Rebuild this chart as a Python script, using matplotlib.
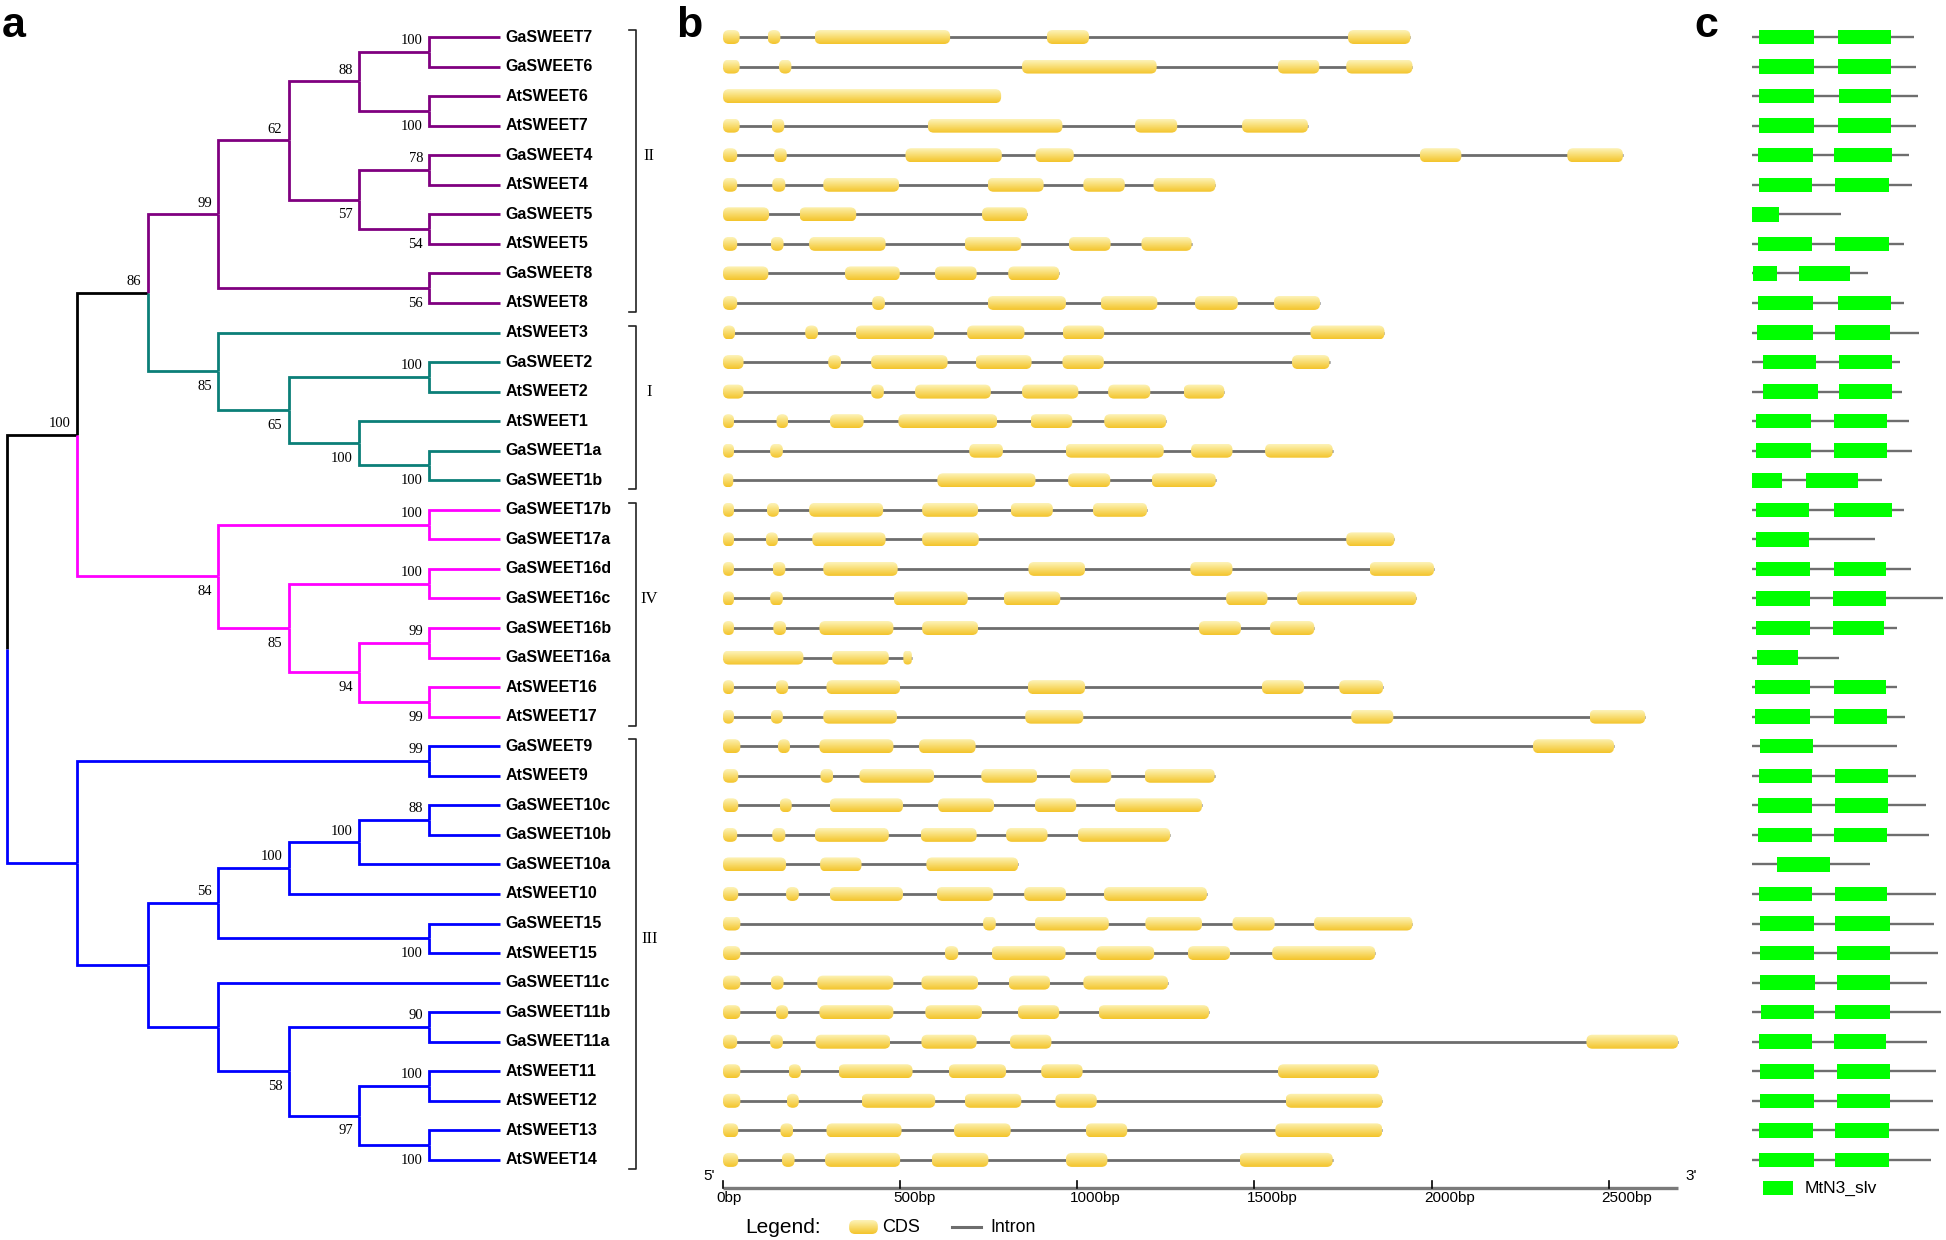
import matplotlib
matplotlib.use("Agg")
import matplotlib.pyplot as plt
import numpy as np
from matplotlib.patches import FancyBboxPatch, Rectangle
from matplotlib.colors import LinearSegmentedColormap

# ---------------- data ----------------
# phylogeny: (bootstrap, [children]) ; leaves are names
tree = (None, [
    (100, [
        (86, [
            (99, [
                (62, [
                    (88, [(100, ["GaSWEET7", "GaSWEET6"]), (100, ["AtSWEET6", "AtSWEET7"])]),
                    (57, [(78, ["GaSWEET4", "AtSWEET4"]), (54, ["GaSWEET5", "AtSWEET5"])]),
                ]),
                (56, ["GaSWEET8", "AtSWEET8"]),
            ]),
            (85, [
                "AtSWEET3",
                (65, [(100, ["GaSWEET2", "AtSWEET2"]),
                      (100, ["AtSWEET1", (100, ["GaSWEET1a", "GaSWEET1b"])])]),
            ]),
        ]),
        (84, [
            (100, ["GaSWEET17b", "GaSWEET17a"]),
            (85, [(100, ["GaSWEET16d", "GaSWEET16c"]),
                  (94, [(99, ["GaSWEET16b", "GaSWEET16a"]), (99, ["AtSWEET16", "AtSWEET17"])])]),
        ]),
    ]),
    (None, [
        (99, ["GaSWEET9", "AtSWEET9"]),
        (None, [
            (56, [(100, [(100, [(88, ["GaSWEET10c", "GaSWEET10b"]), "GaSWEET10a"]), "AtSWEET10"]),
                  (100, ["GaSWEET15", "AtSWEET15"])]),
            (None, ["GaSWEET11c",
                    (58, [(90, ["GaSWEET11b", "GaSWEET11a"]),
                          (97, [(100, ["AtSWEET11", "AtSWEET12"]), (100, ["AtSWEET13", "AtSWEET14"])])])]),
        ]),
    ]),
])

clade_names = ["II", "I", "IV", "III"]
clade_first = ["GaSWEET7", "AtSWEET3", "GaSWEET17b", "GaSWEET9"]
clade_last = ["AtSWEET8", "GaSWEET1b", "AtSWEET17", "AtSWEET14"]
clade_colors = ["#800080", "#0b7f78", "#ff00ff", "#0000ff"]

genes = ["GaSWEET7", "GaSWEET6", "AtSWEET6", "AtSWEET7", "GaSWEET4", "AtSWEET4",
         "GaSWEET5", "AtSWEET5", "GaSWEET8", "AtSWEET8", "AtSWEET3", "GaSWEET2",
         "AtSWEET2", "AtSWEET1", "GaSWEET1a", "GaSWEET1b", "GaSWEET17b", "GaSWEET17a",
         "GaSWEET16d", "GaSWEET16c", "GaSWEET16b", "GaSWEET16a", "AtSWEET16", "AtSWEET17",
         "GaSWEET9", "AtSWEET9", "GaSWEET10c", "GaSWEET10b", "GaSWEET10a", "AtSWEET10",
         "GaSWEET15", "AtSWEET15", "GaSWEET11c", "GaSWEET11b", "GaSWEET11a", "AtSWEET11",
         "AtSWEET12", "AtSWEET13", "AtSWEET14"]

# CDS positions (bp), same order as genes
exon_bp = [
    [(0, 47), (126, 162), (259, 641), (914, 1033), (1764, 1940)],
    [(0, 47), (158, 193), (844, 1224), (1566, 1683), (1759, 1946)],
    [(0, 785)],
    [(0, 47), (137, 173), (578, 958), (1163, 1282), (1465, 1651)],
    [(0, 40), (144, 180), (515, 787), (882, 990), (1967, 2084), (2383, 2540)],
    [(0, 40), (139, 176), (283, 497), (747, 905), (1017, 1134), (1215, 1390)],
    [(0, 130), (216, 376), (731, 859)],
    [(0, 40), (135, 171), (243, 459), (682, 842), (976, 1094), (1181, 1323)],
    [(0, 128), (344, 499), (598, 716), (805, 949)],
    [(0, 40), (421, 457), (747, 968), (1066, 1226), (1332, 1453), (1555, 1685)],
    [(0, 34), (232, 268), (374, 596), (689, 851), (959, 1076), (1658, 1867)],
    [(0, 58), (297, 333), (418, 634), (713, 871), (958, 1075), (1606, 1712)],
    [(0, 58), (418, 454), (542, 756), (844, 1003), (1087, 1206), (1300, 1415)],
    [(0, 31), (151, 184), (302, 397), (495, 774), (868, 986), (1076, 1251)],
    [(0, 31), (133, 169), (695, 790), (967, 1244), (1321, 1438), (1530, 1721)],
    [(0, 29), (605, 882), (974, 1093), (1210, 1391)],
    [(0, 31), (124, 158), (243, 452), (562, 720), (812, 931), (1044, 1197)],
    [(0, 31), (121, 155), (252, 459), (562, 722), (1759, 1895)],
    [(0, 31), (140, 176), (283, 493), (862, 1022), (1319, 1438), (1825, 2007)],
    [(0, 31), (133, 169), (482, 691), (792, 952), (1420, 1537), (1620, 1957)],
    [(0, 31), (142, 178), (272, 481), (562, 720), (1343, 1462), (1544, 1669)],
    [(0, 227), (308, 468), (509, 533)],
    [(0, 31), (149, 184), (292, 500), (860, 1022), (1521, 1640), (1739, 1863)],
    [(0, 31), (135, 169), (283, 491), (853, 1017), (1773, 1892), (2446, 2603)],
    [(0, 49), (155, 189), (272, 481), (553, 713), (2286, 2515)],
    [(0, 43), (275, 311), (385, 596), (729, 887), (979, 1096), (1190, 1388)],
    [(0, 43), (160, 194), (301, 508), (607, 765), (880, 997), (1105, 1352)],
    [(0, 40), (139, 176), (259, 468), (558, 716), (799, 916), (1001, 1262)],
    [(0, 178), (274, 391), (574, 833)],
    [(0, 43), (178, 214), (301, 508), (603, 763), (850, 968), (1075, 1366)],
    [(0, 49), (734, 770), (880, 1089), (1192, 1352), (1438, 1557), (1668, 1946)],
    [(0, 49), (626, 664), (758, 967), (1053, 1217), (1312, 1431), (1550, 1841)],
    [(0, 49), (135, 171), (266, 481), (560, 720), (806, 923), (1017, 1256)],
    [(0, 49), (149, 184), (272, 481), (571, 731), (832, 949), (1060, 1372)],
    [(0, 40), (133, 169), (261, 472), (560, 716), (810, 927), (2437, 2696)],
    [(0, 49), (185, 220), (326, 535), (637, 799), (898, 1015), (1566, 1850)],
    [(0, 49), (180, 214), (391, 599), (682, 842), (938, 1055), (1588, 1861)],
    [(0, 43), (162, 198), (292, 504), (652, 812), (1024, 1141), (1559, 1861)],
    [(0, 43), (166, 202), (288, 500), (589, 749), (968, 1085), (1458, 1721)],
]
bp_ticks = [0, 500, 1000, 1500, 2000, 2500]
bp_axis_end = 2696

# protein length (aa) and MtN3_slv domains (aa), same order as genes
protein_aa = [261, 265, 269, 265, 254, 258, 144, 246, 188, 245, 270, 239, 242,
              254, 259, 210, 245, 199, 257, 308, 235, 141, 235, 247, 235, 265,
              281, 286, 191, 297, 294, 300, 282, 305, 283, 297, 292, 302, 289]
domain_aa = [
    [(12, 101), (139, 225)], [(12, 101), (139, 225)], [(12, 101), (140, 225)],
    [(12, 101), (139, 225)], [(10, 99), (133, 226)], [(12, 98), (135, 221)],
    [(1, 44)], [(10, 97), (135, 222)], [(2, 41), (76, 159)], [(10, 99), (139, 224)],
    [(9, 99), (135, 223)], [(18, 104), (141, 226)], [(18, 107), (141, 226)],
    [(7, 96), (133, 218)], [(7, 96), (133, 218)], [(1, 49), (87, 172)],
    [(7, 93), (133, 226)], [(7, 93)], [(7, 94), (132, 217)], [(7, 94), (131, 217)],
    [(7, 94), (131, 214)], [(8, 75)], [(6, 94), (132, 217)], [(6, 94), (132, 218)],
    [(13, 99)], [(11, 98), (135, 220)], [(10, 97), (134, 220)], [(10, 97), (133, 219)],
    [(41, 126)], [(11, 98), (134, 219)], [(14, 101), (135, 223)], [(13, 101), (138, 223)],
    [(13, 102), (138, 223)], [(15, 101), (135, 223)], [(12, 98), (133, 217)],
    [(13, 101), (137, 223)], [(13, 101), (137, 223)], [(11, 99), (135, 222)],
    [(11, 100), (135, 222)],
]

# ---------------- figure ----------------
W, H = 1946, 1240
fig = plt.figure(figsize=(W / 100, H / 100), dpi=100)
SANS = "Liberation Sans"
SERIF = "Liberation Serif"

# common row mapping: row i sits at pixel y = 37 + 29.55 i
ROW_Y0, ROW_DY = 37.0, 29.55
ylim = ((H - ROW_Y0) / ROW_DY, -ROW_Y0 / ROW_DY)


def px_axes(x0, x1):
    ax = fig.add_axes([x0 / W, 0, (x1 - x0) / W, 1])
    ax.set_axis_off()
    return ax


# ---------------- a: tree ----------------
axT = px_axes(0, 700)
LVL_X0, LVL_DX = 7.0, 70.4
N_LVL = 7

leaf_order = []


def height(n):
    return 0 if isinstance(n, str) else 1 + max(height(c) for c in n[1])


def collect(n):
    if isinstance(n, str):
        leaf_order.append(n)
    else:
        for c in n[1]:
            collect(c)


collect(tree)
row_of = {g: i for i, g in enumerate(leaf_order)}
assert leaf_order == genes

leaf_color = {}
for f, l, col in zip(clade_first, clade_last, clade_colors):
    for r in range(row_of[f], row_of[l] + 1):
        leaf_color[leaf_order[r]] = col


def leaves(n):
    return [n] if isinstance(n, str) else sum((leaves(c) for c in n[1]), [])


def node_color(n):
    cols = {leaf_color[g] for g in leaves(n)}
    return cols.pop() if len(cols) == 1 else "black"


def pos(n):
    if isinstance(n, str):
        return N_LVL, row_of[n]
    ys = [pos(c)[1] for c in n[1]]
    return N_LVL - height(n), (ys[0] + ys[-1]) / 2


def draw_node(n):
    if isinstance(n, str):
        return
    px, py = pos(n)
    for k, c in enumerate(n[1]):
        cx, cy = pos(c)
        axT.plot([px, px, cx], [py, cy, cy], color=node_color(c), lw=2.0,
                 solid_joinstyle="miter", solid_capstyle="butt")
        if not isinstance(c, str) and c[0] is not None:
            dy = -0.38 if k == 0 else 0.52
            axT.text(cx - 0.09, cy + dy, str(c[0]), ha="right", va="center",
                     fontsize=10.5, family=SERIF)
        draw_node(c)


draw_node(tree)

for g in leaf_order:
    axT.text(N_LVL + 0.085, row_of[g], g, ha="left", va="center", fontsize=11.5,
             fontweight="bold", family=SANS)

# clade brackets
BR_X = (636 - LVL_X0) / LVL_DX
for name, f, l in zip(clade_names, clade_first, clade_last):
    y0, y1 = row_of[f] - 0.23, row_of[l] + 0.3
    axT.plot([BR_X - 0.1, BR_X, BR_X, BR_X - 0.1], [y0, y0, y1, y1], color="#222222", lw=1.2)
    axT.text(BR_X + 0.19, (row_of[f] + row_of[l]) / 2 - 0.47, name, ha="center", va="center",
             fontsize=12, family=SERIF)

axT.set_xlim(-LVL_X0 / LVL_DX, (700 - LVL_X0) / LVL_DX)
axT.set_ylim(*ylim)

# ---------------- b: gene structure ----------------
axG = px_axes(700, 1700)
BP0, BP_PX = 723.0, 0.3543  # pixel of 0 bp, pixels per bp
EXON_H = 14 / ROW_DY
ASPECT = (1 / ROW_DY) / (1 / BP_PX)
cds_cmap = LinearSegmentedColormap.from_list(
    "cds", ["#fdf3b8", "#fae487", "#f7d458", "#f3c42c"])
grad = np.linspace(0, 1, 32).reshape(-1, 1)


def draw_exon(ax, x0, x1, y):
    w = x1 - x0
    r = min(17.0, w / 2)
    patch = FancyBboxPatch((x0, y - EXON_H / 2), w, EXON_H,
                           boxstyle=f"round,pad=0,rounding_size={r}",
                           mutation_aspect=ASPECT, fc="none", ec="none", zorder=3)
    ax.add_patch(patch)
    im = ax.imshow(grad, extent=(x0, x1, y + EXON_H / 2, y - EXON_H / 2), origin="upper",
                   aspect="auto", cmap=cds_cmap, interpolation="bilinear", zorder=3)
    im.set_clip_path(patch)


for i, ex in enumerate(exon_bp):
    if len(ex) > 1:
        axG.plot([ex[0][0], ex[-1][1]], [i, i], color="#6d6d6d", lw=2.0, zorder=2,
                 solid_capstyle="butt")
    for a, b in ex:
        draw_exon(axG, a, b, i)

# scale bar
AX_ROW = (1187.5 - ROW_Y0) / ROW_DY
axG.plot([0, bp_axis_end], [AX_ROW, AX_ROW], color="#7a7a7a", lw=2.4, solid_capstyle="butt")
for t in bp_ticks:
    axG.plot([t, t], [AX_ROW, AX_ROW - 7 / ROW_DY], color="black", lw=1.2)
    axG.text(t - 20, AX_ROW + 10 / ROW_DY, f"{t}bp", ha="left", va="center", fontsize=11,
             family=SANS)
axG.text(-38, AX_ROW - 12 / ROW_DY, "5'", ha="center", va="center", fontsize=11, family=SANS)
axG.text(2734, AX_ROW - 12 / ROW_DY, "3'", ha="center", va="center", fontsize=11, family=SANS)

# legend
LEG_ROW = (1227 - ROW_Y0) / ROW_DY
axG.text(62, LEG_ROW, "Legend:", ha="left", va="center", fontsize=15, family=SANS)
draw_exon(axG, 356, 437, LEG_ROW)
axG.text(450, LEG_ROW, "CDS", ha="left", va="center", fontsize=13, family=SANS)
axG.plot([646, 727], [LEG_ROW, LEG_ROW], color="#6d6d6d", lw=2.2)
axG.text(754, LEG_ROW, "Intron", ha="left", va="center", fontsize=12.8, family=SANS)

axG.set_xlim((700 - BP0) / BP_PX, (1700 - BP0) / BP_PX)
axG.set_ylim(*ylim)

# ---------------- c: domains ----------------
axD = px_axes(1720, W)
AA0, AA_PX = 1751.7, 0.62
DOM_H = 14.5 / ROW_DY
for i, (L, doms) in enumerate(zip(protein_aa, domain_aa)):
    axD.plot([0, L], [i, i], color="#6e6e6e", lw=1.7, zorder=2, solid_capstyle="butt")
    for a, b in doms:
        axD.add_patch(Rectangle((a, i - DOM_H / 2), b - a, DOM_H, fc="#00ff00", ec="none", zorder=3))

DLEG_ROW = (1188 - ROW_Y0) / ROW_DY
axD.add_patch(Rectangle((18, DLEG_ROW - DOM_H / 2), 48, DOM_H, fc="#00ff00", ec="none"))
axD.text(86, DLEG_ROW, "MtN3_slv", ha="left", va="center", fontsize=12.5, family=SANS)
axD.set_xlim((1720 - AA0) / AA_PX, (W - AA0) / AA_PX)
axD.set_ylim(*ylim)

# panel letters
for lx, lab in [(2, "a"), (676, "b"), (1694, "c")]:
    fig.text(lx / W, 1 - 37 / H, lab, ha="left", va="baseline", fontsize=31,
             fontweight="bold", family=SANS)

fig.savefig("out.png", dpi=100)
